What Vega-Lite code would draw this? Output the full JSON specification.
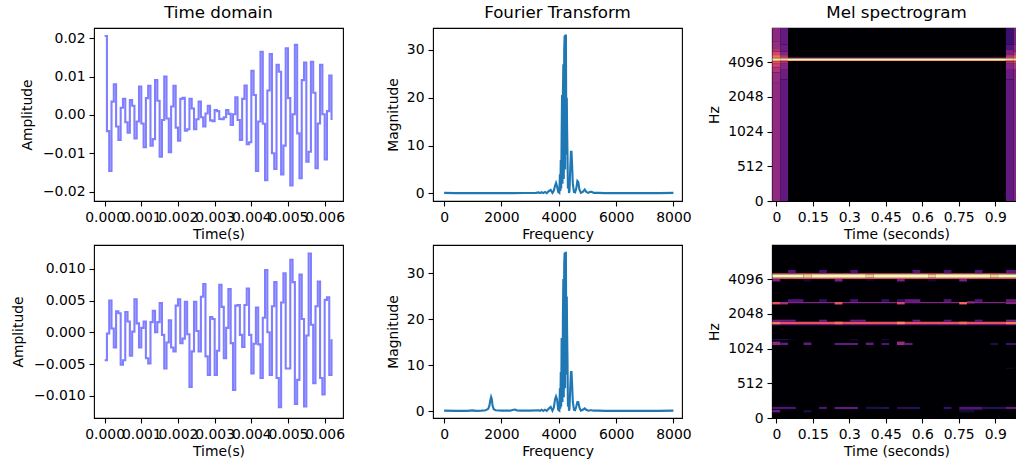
{
"$schema":"https://vega.github.io/schema/vega-lite/v6.json",
"padding":{"left":11,"top":4,"right":0,"bottom":0},
"background":"white",
"config":{"font":"DejaVu Sans","view":{"stroke":"#000","strokeWidth":1.1,"continuousWidth":249,"continuousHeight":173},
"axis":{"grid":false,"domain":false,"tickColor":"#000","tickSize":5,"tickWidth":1.1,"labelColor":"#000","titleColor":"#000","labelFontSize":13.9,"titleFontSize":13.9,"titleFontWeight":"normal","labelPadding":4,"labelOverlap":false,"labelFlush":false,"labelBound":false},
"title":{"fontSize":16.7,"fontWeight":"normal","color":"#000","offset":6}},
"datasets":{
"time1":[{"t":0,"a":0.0206},{"t":0.0000625,"a":-0.0042},{"t":0.000125,"a":-0.0146},{"t":0.0001875,"a":0.0035},{"t":0.00025,"a":0.008},{"t":0.0003125,"a":-0.003},{"t":0.000375,"a":-0.0065},{"t":0.0004375,"a":0.0019},
{"t":0.0005,"a":0.0042},{"t":0.0005625,"a":-0.0019},{"t":0.000625,"a":-0.0046},{"t":0.0006875,"a":0.0039},{"t":0.00075,"a":0.0024},{"t":0.0008125,"a":-0.0061},{"t":0.000875,"a":-0.0017},{"t":0.0009375,"a":0.0074},
{"t":0.001,"a":-0.0022},{"t":0.0010625,"a":-0.0084},{"t":0.001125,"a":0.0044},{"t":0.0011875,"a":0.0076},{"t":0.00125,"a":-0.008},{"t":0.0013125,"a":-0.0063},{"t":0.001375,"a":0.0091},{"t":0.0014375,"a":0.0037},
{"t":0.0015,"a":-0.0109},{"t":0.0015625,"a":-0.0013},{"t":0.001625,"a":0.01},{"t":0.0016875,"a":-0.0009},{"t":0.00175,"a":-0.0097},{"t":0.0018125,"a":0.0022},{"t":0.001875,"a":0.0076},{"t":0.0019375,"a":-0.0033},
{"t":0.002,"a":-0.0067},{"t":0.0020625,"a":0.0042},{"t":0.002125,"a":0.0045},{"t":0.0021875,"a":-0.0041},{"t":0.00225,"a":-0.0037},{"t":0.0023125,"a":0.0042},{"t":0.002375,"a":0.0017},{"t":0.0024375,"a":-0.0037},
{"t":0.0025,"a":-0.0011},{"t":0.0025625,"a":0.0035},{"t":0.002625,"a":-0.0006},{"t":0.0026875,"a":-0.003},{"t":0.00275,"a":0.0004},{"t":0.0028125,"a":0.0024},{"t":0.002875,"a":-0.0014},{"t":0.0029375,"a":-0.0016},
{"t":0.003,"a":0.0013},{"t":0.0030625,"a":0.001},{"t":0.003125,"a":-0.001},{"t":0.0031875,"a":-0.0011},{"t":0.00325,"a":-0.0006},{"t":0.0033125,"a":0.0013},{"t":0.003375,"a":0.0003},{"t":0.0034375,"a":-0.0026},
{"t":0.0035,"a":0.0002},{"t":0.0035625,"a":0.0046},{"t":0.003625,"a":-0.0013},{"t":0.0036875,"a":-0.0065},{"t":0.00375,"a":0.0042},{"t":0.0038125,"a":0.0077},{"t":0.003875,"a":-0.0076},{"t":0.0039375,"a":-0.0071},
{"t":0.004,"a":0.0115},{"t":0.0040625,"a":0.0052},{"t":0.004125,"a":-0.0146},{"t":0.0041875,"a":-0.0017},{"t":0.00425,"a":0.0165},{"t":0.0043125,"a":-0.0023},{"t":0.004375,"a":-0.017},{"t":0.0044375,"a":0.0064},
{"t":0.0045,"a":0.0159},{"t":0.0045625,"a":-0.01},{"t":0.004625,"a":-0.0141},{"t":0.0046875,"a":0.0131},{"t":0.00475,"a":0.0113},{"t":0.0048125,"a":-0.0155},{"t":0.004875,"a":-0.008},{"t":0.0049375,"a":0.0174},
{"t":0.005,"a":0.0044},{"t":0.0050625,"a":-0.0184},{"t":0.005125,"a":0.0002},{"t":0.0051875,"a":0.0183},{"t":0.00525,"a":-0.0048},{"t":0.0053125,"a":-0.0165},{"t":0.005375,"a":0.0091},{"t":0.0054375,"a":0.0137},
{"t":0.0055,"a":-0.0122},{"t":0.0055625,"a":-0.0096},{"t":0.005625,"a":0.0139},{"t":0.0056875,"a":0.0058},{"t":0.00575,"a":-0.0139},{"t":0.0058125,"a":-0.0022},{"t":0.005875,"a":0.0131},{"t":0.0059375,"a":0.0002},
{"t":0.006,"a":-0.0116},{"t":0.0060625,"a":0.001},{"t":0.006125,"a":0.0103},{"t":0.0061875,"a":-0.0013}],
"time2":[{"t":0,"a":-0.0044},{"t":0.0000625,"a":-0.0002},{"t":0.000125,"a":0.005},{"t":0.0001875,"a":0.0006},{"t":0.00025,"a":-0.0024},{"t":0.0003125,"a":0.0033},{"t":0.000375,"a":0.003},{"t":0.0004375,"a":-0.0051},
{"t":0.0005,"a":-0.0044},{"t":0.0005625,"a":0.0032},{"t":0.000625,"a":0.0017},{"t":0.0006875,"a":-0.0037},{"t":0.00075,"a":0.0001},{"t":0.0008125,"a":0.0052},{"t":0.000875,"a":0.0014},{"t":0.0009375,"a":-0.0024},
{"t":0.001,"a":0.0007},{"t":0.0010625,"a":0.0017},{"t":0.001125,"a":-0.0041},{"t":0.0011875,"a":-0.0049},{"t":0.00125,"a":0.0016},{"t":0.0013125,"a":0.0034},{"t":0.001375,"a":0},{"t":0.0014375,"a":0.0016},
{"t":0.0015,"a":0.0046},{"t":0.0015625,"a":-0.0004},{"t":0.001625,"a":-0.0057},{"t":0.0016875,"a":-0.0016},{"t":0.00175,"a":0.0019},{"t":0.0018125,"a":-0.0024},{"t":0.001875,"a":-0.003},{"t":0.0019375,"a":0.0042},
{"t":0.002,"a":0.0052},{"t":0.0020625,"a":-0.0017},{"t":0.002125,"a":-0.001},{"t":0.0021875,"a":0.0048},{"t":0.00225,"a":-0.0003},{"t":0.0023125,"a":-0.0086},{"t":0.002375,"a":-0.003},{"t":0.0024375,"a":0.0048},
{"t":0.0025,"a":0.0002},{"t":0.0025625,"a":-0.003},{"t":0.002625,"a":0.0056},{"t":0.0026875,"a":0.0076},{"t":0.00275,"a":-0.0038},{"t":0.0028125,"a":-0.0067},{"t":0.002875,"a":0.0024},{"t":0.0029375,"a":0.0021},
{"t":0.003,"a":-0.0067},{"t":0.0030625,"a":-0.0029},{"t":0.003125,"a":0.0075},{"t":0.0031875,"a":0.004},{"t":0.00325,"a":-0.0041},{"t":0.0033125,"a":0.0007},{"t":0.003375,"a":0.0068},{"t":0.0034375,"a":-0.0017},
{"t":0.0035,"a":-0.0091},{"t":0.0035625,"a":0.0042},{"t":0.003625,"a":0.0043},{"t":0.0036875,"a":-0.0004},{"t":0.00375,"a":-0.0023},{"t":0.0038125,"a":0.0043},{"t":0.003875,"a":0.0069},{"t":0.0039375,"a":-0.0004},
{"t":0.004,"a":-0.0065},{"t":0.0040625,"a":-0.0018},{"t":0.004125,"a":0.0039},{"t":0.0041875,"a":-0.0019},{"t":0.00425,"a":-0.0072},{"t":0.0043125,"a":0.0023},{"t":0.004375,"a":0.0098},{"t":0.0044375,"a":0},
{"t":0.0045,"a":-0.0067},{"t":0.0045625,"a":0.0041},{"t":0.004625,"a":0.0079},{"t":0.0046875,"a":-0.0072},{"t":0.00475,"a":-0.0118},{"t":0.0048125,"a":0.0047},{"t":0.004875,"a":0.0093},{"t":0.0049375,"a":-0.0057},
{"t":0.005,"a":-0.0057},{"t":0.0050625,"a":0.0114},{"t":0.005125,"a":0.0079},{"t":0.0051875,"a":-0.0113},{"t":0.00525,"a":-0.0075},{"t":0.0053125,"a":0.0091},{"t":0.005375,"a":0.0021},{"t":0.0054375,"a":-0.0117},
{"t":0.0055,"a":-0.0005},{"t":0.0055625,"a":0.0124},{"t":0.005625,"a":0.0012},{"t":0.0056875,"a":-0.008},{"t":0.00575,"a":0.0041},{"t":0.0058125,"a":0.008},{"t":0.005875,"a":-0.0072},{"t":0.0059375,"a":-0.0098},
{"t":0.006,"a":0.0051},{"t":0.0060625,"a":0.0055},{"t":0.006125,"a":-0.0067},{"t":0.0061875,"a":-0.0011}],
"fft1":[{"f":0,"m":0.1},{"f":400,"m":0.05},{"f":800,"m":0.05},{"f":1200,"m":0.05},{"f":1600,"m":0.05},{"f":2000,"m":0.05},{"f":2400,"m":0.05},{"f":2800,"m":0.08},{"f":3200,"m":0.1},{"f":3300,"m":0.2},{"f":3350,"m":0.05},{"f":3400,"m":0.25},{"f":3460,"m":0.05},{"f":3520,"m":0.3},{"f":3580,"m":0.05},{"f":3660,"m":0.5},{"f":3720,"m":0.7},{"f":3780,"m":0.1},{"f":3830,"m":0.6},{"f":3870,"m":1.6},{"f":3905,"m":2.2},{"f":3940,"m":1.5},{"f":3980,"m":0.3},{"f":4020,"m":0.1},{"f":4040,"m":4},{"f":4055,"m":0.5},{"f":4070,"m":7},{"f":4085,"m":1},{"f":4100,"m":12},{"f":4115,"m":20.6},{"f":4130,"m":2},{"f":4145,"m":21},{"f":4160,"m":27},{"f":4175,"m":3},{"f":4190,"m":30},{"f":4205,"m":33},{"f":4220,"m":5},{"f":4235,"m":33},{"f":4250,"m":33},{"f":4265,"m":8},{"f":4280,"m":20},{"f":4290,"m":14},{"f":4305,"m":8},{"f":4320,"m":1},{"f":4335,"m":3},{"f":4358,"m":0.1},{"f":4375,"m":0.5},{"f":4400,"m":5},{"f":4425,"m":8.7},{"f":4445,"m":8.7},{"f":4465,"m":6},{"f":4490,"m":2},{"f":4530,"m":0.3},{"f":4570,"m":0.2},{"f":4610,"m":1},{"f":4650,"m":2.6},{"f":4680,"m":2.4},{"f":4720,"m":0.8},{"f":4770,"m":0.1},{"f":4840,"m":0.3},{"f":4905,"m":0.8},{"f":4960,"m":0.3},{"f":5030,"m":0.1},{"f":5100,"m":0.3},{"f":5150,"m":0.3},{"f":5220,"m":0.1},{"f":5400,"m":0.1},{"f":5600,"m":0.05},{"f":6000,"m":0.05},{"f":6500,"m":0.05},{"f":7000,"m":0.05},{"f":7500,"m":0.05},{"f":8000,"m":0.1}],
"fft2":[{"f":0,"m":0.1},{"f":400,"m":0.05},{"f":800,"m":0.05},{"f":1000,"m":0.15},{"f":1100,"m":0.05},{"f":1300,"m":0.1},{"f":1450,"m":0.2},{"f":1540,"m":0.5},{"f":1580,"m":1.2},{"f":1610,"m":2.3},{"f":1640,"m":3.1},{"f":1665,"m":2.6},{"f":1690,"m":1.2},{"f":1730,"m":0.4},{"f":1800,"m":0.2},{"f":2000,"m":0.1},{"f":2300,"m":0.1},{"f":2420,"m":0.3},{"f":2480,"m":0.35},{"f":2540,"m":0.15},{"f":2700,"m":0.1},{"f":3000,"m":0.1},{"f":3300,"m":0.2},{"f":3350,"m":0.05},{"f":3400,"m":0.3},{"f":3460,"m":0.05},{"f":3520,"m":0.3},{"f":3580,"m":0.05},{"f":3660,"m":0.6},{"f":3720,"m":0.9},{"f":3780,"m":0.1},{"f":3830,"m":0.8},{"f":3870,"m":2.6},{"f":3905,"m":3.2},{"f":3940,"m":2.6},{"f":3980,"m":0.3},{"f":4020,"m":0.1},{"f":4040,"m":5},{"f":4055,"m":0.5},{"f":4070,"m":8.5},{"f":4085,"m":1},{"f":4100,"m":15.7},{"f":4115,"m":15.7},{"f":4130,"m":2},{"f":4145,"m":21},{"f":4160,"m":28.8},{"f":4175,"m":3},{"f":4190,"m":32},{"f":4205,"m":34.5},{"f":4220,"m":5},{"f":4235,"m":34.5},{"f":4250,"m":34.5},{"f":4265,"m":8},{"f":4280,"m":25},{"f":4290,"m":18},{"f":4305,"m":11},{"f":4320,"m":1},{"f":4335,"m":3},{"f":4358,"m":0.1},{"f":4375,"m":0.5},{"f":4400,"m":5},{"f":4425,"m":8.5},{"f":4445,"m":8.5},{"f":4465,"m":6},{"f":4490,"m":2},{"f":4530,"m":0.3},{"f":4570,"m":0.2},{"f":4610,"m":1},{"f":4650,"m":2},{"f":4680,"m":2},{"f":4720,"m":0.8},{"f":4770,"m":0.1},{"f":4840,"m":0.3},{"f":4905,"m":0.6},{"f":4960,"m":0.3},{"f":5030,"m":0.1},{"f":5100,"m":0.2},{"f":5150,"m":0.2},{"f":5220,"m":0.1},{"f":5400,"m":0.1},{"f":5600,"m":0.05},{"f":6000,"m":0.05},{"f":6500,"m":0.05},{"f":7000,"m":0.05},{"f":7500,"m":0.05},{"f":8000,"m":0.1}],
"mel1":[{"t0":-0.016,"t1":1.008,"p0":0,"p1":4.98,"db":-80},
{"t0":0.048,"t1":0.944,"p0":4.1,"p1":4.13,"db":-48},{"t0":0.048,"t1":0.944,"p0":4.06,"p1":4.1,"db":-1.6},{"t0":0.048,"t1":0.944,"p0":4.03,"p1":4.06,"db":-16},
{"t0":-0.016,"t1":0.016,"p0":4.6,"p1":4.98,"db":-48},{"t0":-0.016,"t1":0.016,"p0":4.4,"p1":4.6,"db":-46.4},{"t0":-0.016,"t1":0.016,"p0":4.3,"p1":4.4,"db":-41.6},{"t0":-0.016,"t1":0.016,"p0":4.2,"p1":4.3,"db":-33.6},{"t0":-0.016,"t1":0.016,"p0":4.13,"p1":4.2,"db":-24},{"t0":-0.016,"t1":0.016,"p0":4.1,"p1":4.13,"db":-12},{"t0":-0.016,"t1":0.016,"p0":4.06,"p1":4.1,"db":-1.6},{"t0":-0.016,"t1":0.016,"p0":4.02,"p1":4.06,"db":-16},{"t0":-0.016,"t1":0.016,"p0":3.95,"p1":4.02,"db":-30.4},{"t0":-0.016,"t1":0.016,"p0":3.85,"p1":3.95,"db":-36},{"t0":-0.016,"t1":0.016,"p0":3.7,"p1":3.85,"db":-41.6},{"t0":-0.016,"t1":0.016,"p0":3.4,"p1":3.7,"db":-46.4},{"t0":-0.016,"t1":0.016,"p0":0,"p1":3.4,"db":-47.2},
{"t0":0.016,"t1":0.048,"p0":4.5,"p1":4.98,"db":-56},{"t0":0.016,"t1":0.048,"p0":4.3,"p1":4.5,"db":-54.4},{"t0":0.016,"t1":0.048,"p0":4.2,"p1":4.3,"db":-49.6},{"t0":0.016,"t1":0.048,"p0":4.13,"p1":4.2,"db":-40},{"t0":0.016,"t1":0.048,"p0":4.1,"p1":4.13,"db":-20},{"t0":0.016,"t1":0.048,"p0":4.06,"p1":4.1,"db":-1.6},{"t0":0.016,"t1":0.048,"p0":4.02,"p1":4.06,"db":-24},{"t0":0.016,"t1":0.048,"p0":3.95,"p1":4.02,"db":-44},{"t0":0.016,"t1":0.048,"p0":3.8,"p1":3.95,"db":-49.6},{"t0":0.016,"t1":0.048,"p0":3.5,"p1":3.8,"db":-54.4},{"t0":0.016,"t1":0.048,"p0":0,"p1":3.5,"db":-56.8},
{"t0":0.944,"t1":0.976,"p0":4.5,"p1":4.98,"db":-64},{"t0":0.944,"t1":0.976,"p0":4.35,"p1":4.5,"db":-60},{"t0":0.944,"t1":0.976,"p0":4.2,"p1":4.35,"db":-52},{"t0":0.944,"t1":0.976,"p0":4.13,"p1":4.2,"db":-40},{"t0":0.944,"t1":0.976,"p0":4.1,"p1":4.13,"db":-20},{"t0":0.944,"t1":0.976,"p0":4.06,"p1":4.1,"db":-1.6},{"t0":0.944,"t1":0.976,"p0":4.02,"p1":4.06,"db":-24},{"t0":0.944,"t1":0.976,"p0":3.95,"p1":4.02,"db":-44},{"t0":0.944,"t1":0.976,"p0":3.8,"p1":3.95,"db":-49.6},{"t0":0.944,"t1":0.976,"p0":3.5,"p1":3.8,"db":-54.4},{"t0":0.944,"t1":0.976,"p0":0,"p1":3.5,"db":-56.8},
{"t0":0.976,"t1":1.008,"p0":4.5,"p1":4.98,"db":-52},{"t0":0.976,"t1":1.008,"p0":4.3,"p1":4.5,"db":-48},{"t0":0.976,"t1":1.008,"p0":4.2,"p1":4.3,"db":-40},{"t0":0.976,"t1":1.008,"p0":4.13,"p1":4.2,"db":-28},{"t0":0.976,"t1":1.008,"p0":4.1,"p1":4.13,"db":-12},{"t0":0.976,"t1":1.008,"p0":4.06,"p1":4.1,"db":-1.6},{"t0":0.976,"t1":1.008,"p0":4.02,"p1":4.06,"db":-20},{"t0":0.976,"t1":1.008,"p0":3.95,"p1":4.02,"db":-34},{"t0":0.976,"t1":1.008,"p0":3.8,"p1":3.95,"db":-42},{"t0":0.976,"t1":1.008,"p0":0,"p1":3.8,"db":-50}],
"mel2":[{"t0":-0.016,"t1":1.008,"p0":0,"p1":4.98,"db":-80},
{"t0":-0.016,"t1":1.008,"p0":4.135,"p1":4.17,"db":-32},{"t0":-0.016,"t1":1.008,"p0":4.0,"p1":4.04,"db":-32},
{"t0":-0.016,"t1":0.112,"p0":4.04,"p1":4.135,"db":-1.6},{"t0":0.112,"t1":0.144,"p0":4.04,"p1":4.135,"db":-8},{"t0":0.144,"t1":0.368,"p0":4.04,"p1":4.135,"db":-1.6},{"t0":0.368,"t1":0.4,"p0":4.04,"p1":4.135,"db":-8},{"t0":0.4,"t1":0.624,"p0":4.04,"p1":4.135,"db":-1.6},{"t0":0.624,"t1":0.656,"p0":4.04,"p1":4.135,"db":-8},{"t0":0.656,"t1":0.88,"p0":4.04,"p1":4.135,"db":-1.6},{"t0":0.88,"t1":0.912,"p0":4.04,"p1":4.135,"db":-8},{"t0":0.912,"t1":1.008,"p0":4.04,"p1":4.135,"db":-1.6},
{"t0":0.048,"t1":0.08,"p0":4.17,"p1":4.26,"db":-60},{"t0":0.176,"t1":0.208,"p0":4.17,"p1":4.26,"db":-62},{"t0":0.304,"t1":0.336,"p0":4.17,"p1":4.26,"db":-62},{"t0":0.56,"t1":0.592,"p0":4.17,"p1":4.26,"db":-60},{"t0":0.688,"t1":0.72,"p0":4.17,"p1":4.26,"db":-62},{"t0":0.816,"t1":0.848,"p0":4.17,"p1":4.26,"db":-60},{"t0":0.944,"t1":1.008,"p0":4.17,"p1":4.26,"db":-58},
{"t0":-0.016,"t1":0.016,"p0":3.93,"p1":4.0,"db":-52},{"t0":0.24,"t1":0.272,"p0":3.93,"p1":4.0,"db":-52},{"t0":0.496,"t1":0.528,"p0":3.93,"p1":4.0,"db":-52},{"t0":0.752,"t1":0.784,"p0":3.93,"p1":4.0,"db":-52},{"t0":0.112,"t1":0.144,"p0":3.93,"p1":4.0,"db":-73},{"t0":0.624,"t1":0.656,"p0":3.93,"p1":4.0,"db":-73},{"t0":0.368,"t1":0.4,"p0":3.95,"p1":4.0,"db":-73},
{"t0":-0.016,"t1":1.008,"p0":3.3,"p1":3.34,"db":-50},{"t0":-0.016,"t1":0.016,"p0":3.27,"p1":3.34,"db":-30},{"t0":0.016,"t1":0.048,"p0":3.27,"p1":3.34,"db":-44},{"t0":0.24,"t1":0.272,"p0":3.27,"p1":3.34,"db":-30},{"t0":0.496,"t1":0.528,"p0":3.27,"p1":3.34,"db":-34},{"t0":0.752,"t1":0.784,"p0":3.27,"p1":3.34,"db":-26},{"t0":0.784,"t1":0.816,"p0":3.3,"p1":3.36,"db":-48},{"t0":0.944,"t1":1.008,"p0":3.28,"p1":3.36,"db":-50},
{"t0":0.048,"t1":0.112,"p0":3.34,"p1":3.42,"db":-60},{"t0":0.176,"t1":0.208,"p0":3.34,"p1":3.42,"db":-66},{"t0":0.304,"t1":0.336,"p0":3.34,"p1":3.42,"db":-62},{"t0":0.432,"t1":0.464,"p0":3.34,"p1":3.42,"db":-66},{"t0":0.496,"t1":0.528,"p0":3.34,"p1":3.42,"db":-66},{"t0":0.528,"t1":0.592,"p0":3.32,"p1":3.42,"db":-56},{"t0":0.688,"t1":0.72,"p0":3.34,"p1":3.42,"db":-60},{"t0":0.816,"t1":0.848,"p0":3.34,"p1":3.42,"db":-60},{"t0":0.944,"t1":1.008,"p0":3.36,"p1":3.42,"db":-56},
{"t0":-0.016,"t1":1.008,"p0":2.7,"p1":2.77,"db":-30},{"t0":-0.016,"t1":1.008,"p0":2.67,"p1":2.7,"db":-54},{"t0":-0.016,"t1":0.016,"p0":2.7,"p1":2.77,"db":-22},{"t0":0.24,"t1":0.272,"p0":2.7,"p1":2.77,"db":-24},{"t0":0.496,"t1":0.528,"p0":2.7,"p1":2.77,"db":-20},{"t0":0.752,"t1":0.784,"p0":2.7,"p1":2.77,"db":-24},{"t0":0.944,"t1":1.008,"p0":2.7,"p1":2.77,"db":-22},
{"t0":-0.016,"t1":0.08,"p0":2.77,"p1":2.83,"db":-54},{"t0":0.176,"t1":0.208,"p0":2.77,"p1":2.83,"db":-54},{"t0":0.304,"t1":0.368,"p0":2.77,"p1":2.83,"db":-54},{"t0":0.56,"t1":0.592,"p0":2.77,"p1":2.83,"db":-54},{"t0":0.688,"t1":0.72,"p0":2.77,"p1":2.83,"db":-58},{"t0":0.816,"t1":0.848,"p0":2.77,"p1":2.83,"db":-58},{"t0":0.944,"t1":1.008,"p0":2.77,"p1":2.83,"db":-52},
{"t0":-0.016,"t1":0.016,"p0":2.1,"p1":2.2,"db":-48},{"t0":0.016,"t1":0.048,"p0":2.1,"p1":2.17,"db":-56},{"t0":0.112,"t1":0.144,"p0":2.1,"p1":2.17,"db":-56},{"t0":0.24,"t1":0.336,"p0":2.1,"p1":2.16,"db":-56},{"t0":0.368,"t1":0.4,"p0":2.1,"p1":2.17,"db":-56},{"t0":0.432,"t1":0.464,"p0":2.1,"p1":2.16,"db":-60},{"t0":0.496,"t1":0.528,"p0":2.1,"p1":2.2,"db":-46.4},{"t0":0.528,"t1":0.56,"p0":2.1,"p1":2.16,"db":-56},{"t0":0.88,"t1":0.912,"p0":2.1,"p1":2.16,"db":-70},{"t0":0.944,"t1":1.008,"p0":2.1,"p1":2.16,"db":-64},
{"t0":-0.016,"t1":0.048,"p0":2.24,"p1":2.27,"db":-68},{"t0":0.048,"t1":0.08,"p0":2.24,"p1":2.27,"db":-76},{"t0":0.304,"t1":0.336,"p0":2.24,"p1":2.27,"db":-72},{"t0":0.432,"t1":0.464,"p0":2.24,"p1":2.27,"db":-72},
{"t0":-0.016,"t1":0.08,"p0":0.26,"p1":0.32,"db":-60},{"t0":0.176,"t1":0.208,"p0":0.26,"p1":0.32,"db":-60},{"t0":0.24,"t1":0.336,"p0":0.26,"p1":0.32,"db":-56},{"t0":0.368,"t1":0.432,"p0":0.26,"p1":0.32,"db":-70},{"t0":0.432,"t1":0.464,"p0":0.26,"p1":0.32,"db":-68},{"t0":0.496,"t1":0.592,"p0":0.26,"p1":0.32,"db":-68},{"t0":0.688,"t1":0.72,"p0":0.26,"p1":0.32,"db":-64},{"t0":0.752,"t1":0.848,"p0":0.24,"p1":0.32,"db":-60},{"t0":0.848,"t1":0.944,"p0":0.26,"p1":0.32,"db":-68},{"t0":0.944,"t1":1.008,"p0":0.26,"p1":0.32,"db":-56},
{"t0":-0.016,"t1":0.016,"p0":0.16,"p1":0.23,"db":-56},{"t0":0.112,"t1":0.144,"p0":0.16,"p1":0.23,"db":-72},{"t0":0.752,"t1":0.816,"p0":0.16,"p1":0.23,"db":-73},
{"t0":0.944,"t1":0.976,"p0":1.41,"p1":1.45,"db":-75}]
},
"vconcat":[
{"hconcat":[
{"width":249,"height":173,"title":"Time domain","data":{"name":"time1"},"mark":{"type":"line","interpolate":"step-after","color":"#0000ff","opacity":0.5,"strokeWidth":2.1},
"encoding":{"x":{"field":"t","type":"quantitative","title":"Time(s)","scale":{"domain":[-0.00029,0.0065],"nice":false,"zero":false},"axis":{"values":[0,0.001,0.002,0.003,0.004,0.005,0.006],"format":".3f","titlePadding":4}},
"y":{"field":"a","type":"quantitative","title":"Amplitude","scale":{"domain":[-0.02244,0.0227],"nice":false,"zero":false},"axis":{"values":[-0.02,-0.01,0,0.01,0.02],"format":".2f","titlePadding":8}}}},
{"width":249,"height":173,"title":"Fourier Transform","data":{"name":"fft1"},"mark":{"type":"line","color":"#1f77b4","strokeWidth":2.1},
"encoding":{"x":{"field":"f","type":"quantitative","title":"Frequency","scale":{"domain":[-388,8300],"nice":false,"zero":false},"axis":{"values":[0,2000,4000,6000,8000],"format":"d","titlePadding":4}},
"y":{"field":"m","type":"quantitative","title":"Magnitude","scale":{"domain":[-1.6,34.6],"nice":false,"zero":false},"axis":{"values":[0,10,20,30],"format":"d","titlePadding":6}}}},
{"width":249,"height":173,"title":"Mel spectrogram","data":{"name":"mel1"},"mark":{"type":"rect","clip":true},
"encoding":{"x":{"field":"t0","type":"quantitative","title":"Time (seconds)","scale":{"domain":[-0.0177,1.006],"nice":false,"zero":false},"axis":{"values":[0,0.15,0.3,0.45,0.6,0.75,0.9],"labelExpr":"''+datum.value","titlePadding":4}},"x2":{"field":"t1"},
"y":{"field":"p0","type":"quantitative","title":"Hz","scale":{"domain":[0,4.98],"nice":false,"zero":false},"axis":{"values":[0,1,2,3,4],"labelExpr":"[0,512,1024,2048,4096][datum.value]+''","titlePadding":6}},"y2":{"field":"p1"},
"color":{"field":"db","type":"quantitative","scale":{"scheme":"magma","domain":[-80,0]},"legend":null}}}
],"spacing":90,"bounds":"flush"},
{"hconcat":[
{"width":249,"height":173,"data":{"name":"time2"},"mark":{"type":"line","interpolate":"step-after","color":"#0000ff","opacity":0.5,"strokeWidth":2.1},
"encoding":{"x":{"field":"t","type":"quantitative","title":"Time(s)","scale":{"domain":[-0.00029,0.0065],"nice":false,"zero":false},"axis":{"values":[0,0.001,0.002,0.003,0.004,0.005,0.006],"format":".3f","titlePadding":4}},
"y":{"field":"a","type":"quantitative","title":"Amplitude","scale":{"domain":[-0.0135,0.01375],"nice":false,"zero":false},"axis":{"values":[-0.01,-0.005,0,0.005,0.01],"format":".3f","titlePadding":8}}}},
{"width":249,"height":173,"data":{"name":"fft2"},"mark":{"type":"line","color":"#1f77b4","strokeWidth":2.1},
"encoding":{"x":{"field":"f","type":"quantitative","title":"Frequency","scale":{"domain":[-388,8300],"nice":false,"zero":false},"axis":{"values":[0,2000,4000,6000,8000],"format":"d","titlePadding":4}},
"y":{"field":"m","type":"quantitative","title":"Magnitude","scale":{"domain":[-1.5,36.2],"nice":false,"zero":false},"axis":{"values":[0,10,20,30],"format":"d","titlePadding":6}}}},
{"width":249,"height":173,"data":{"name":"mel2"},"mark":{"type":"rect","clip":true},
"encoding":{"x":{"field":"t0","type":"quantitative","title":"Time (seconds)","scale":{"domain":[-0.0177,1.006],"nice":false,"zero":false},"axis":{"values":[0,0.15,0.3,0.45,0.6,0.75,0.9],"labelExpr":"''+datum.value","titlePadding":4}},"x2":{"field":"t1"},
"y":{"field":"p0","type":"quantitative","title":"Hz","scale":{"domain":[0,4.98],"nice":false,"zero":false},"axis":{"values":[0,1,2,3,4],"labelExpr":"[0,512,1024,2048,4096][datum.value]+''","titlePadding":6}},"y2":{"field":"p1"},
"color":{"field":"db","type":"quantitative","scale":{"scheme":"magma","domain":[-80,0]},"legend":null}}}
],"spacing":90,"bounds":"flush"}
],"spacing":217,"bounds":"flush","resolve":{"scale":{"color":"independent"}}
}
